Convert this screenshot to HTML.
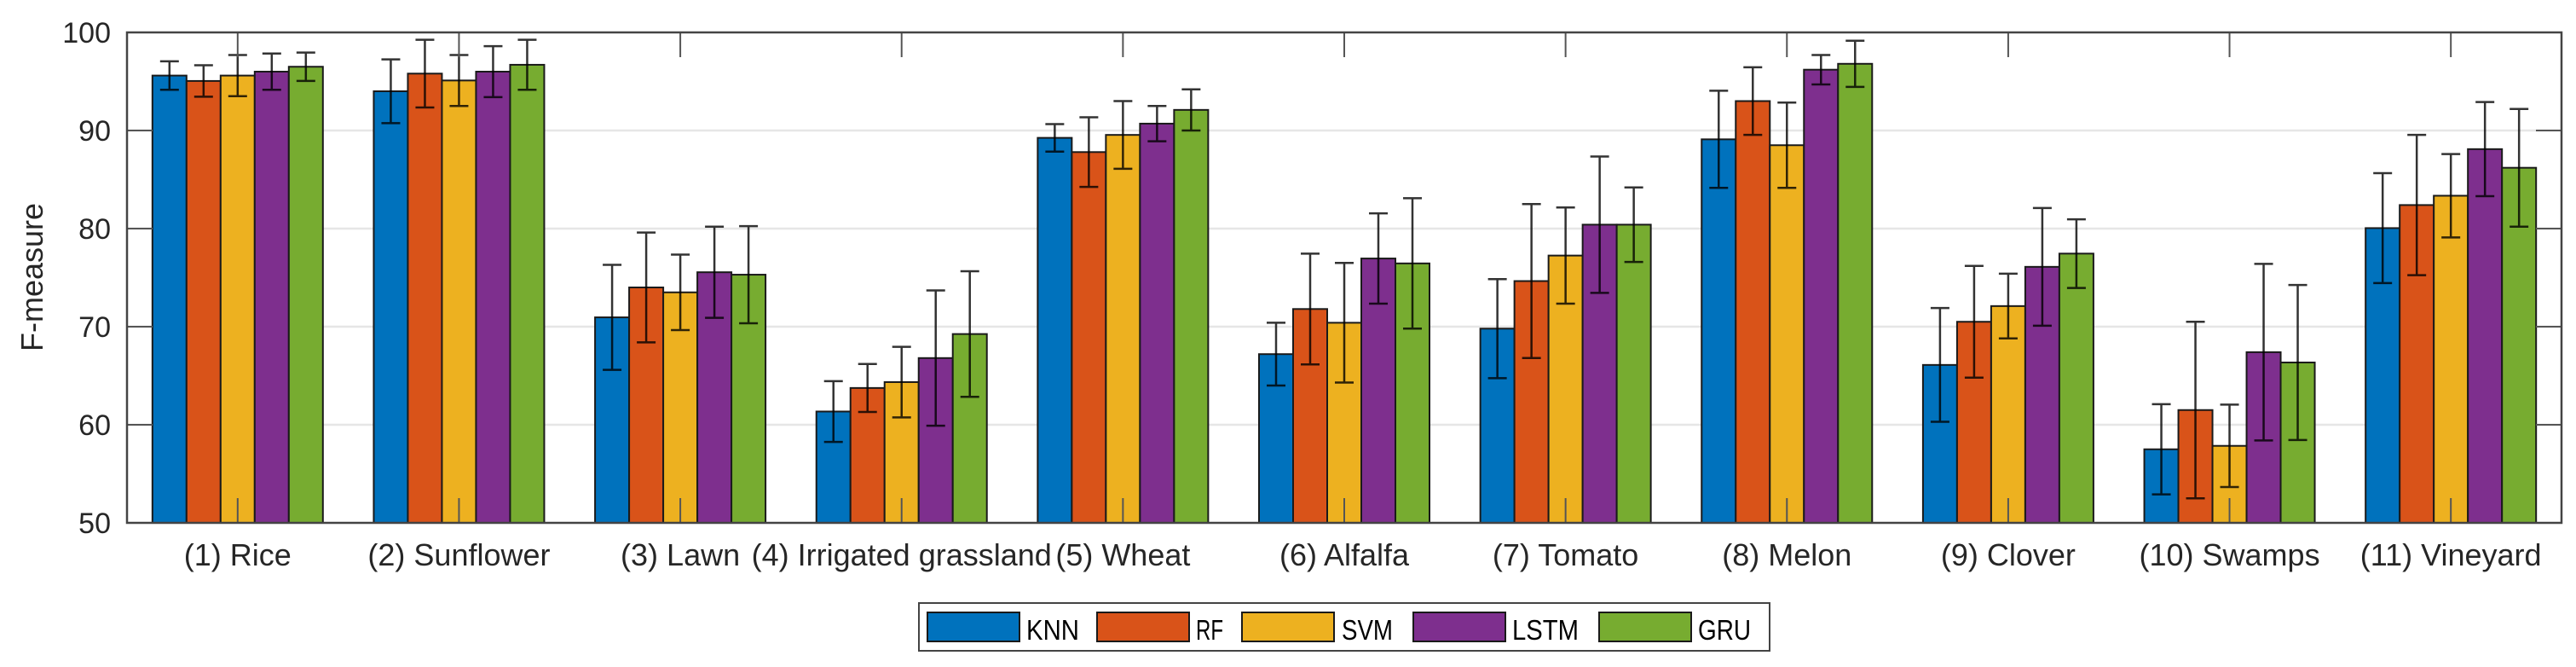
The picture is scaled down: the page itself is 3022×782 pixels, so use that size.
<!DOCTYPE html>
<html><head><meta charset="utf-8"><style>
html,body{margin:0;padding:0;background:#fff}
svg{display:block;font-family:"Liberation Sans",Arial,sans-serif}
</style></head><body>
<svg id="chart" width="3022" height="782" viewBox="0 0 3022 782" xmlns="http://www.w3.org/2000/svg">
<g id="grid"></g>
<g id="bars"></g>
<g id="errs"></g>
<g id="axes"></g>
<text x="0" y="0" transform="translate(50,325) rotate(-90)" text-anchor="middle" font-size="36" fill="#262626">F-measure</text>
<g id="legend"></g>
</svg>
<script>
const categories = ["(1) Rice","(2) Sunflower","(3) Lawn","(4) Irrigated grassland","(5) Wheat","(6) Alfalfa","(7) Tomato","(8) Melon","(9) Clover","(10) Swamps","(11) Vineyard"];
const seriesNames = ["KNN","RF","SVM","LSTM","GRU"];
const knn  = [95.6,94.0,70.95,61.35,89.25,67.2,69.8,89.1,66.1,57.5,80.05];
const rf   = [95.05,95.8,74.0,63.75,87.8,71.8,74.65,93.0,70.5,61.5,82.4];
const svm  = [95.6,95.1,73.5,64.35,89.55,70.4,77.25,88.5,72.1,57.85,83.35];
const lstm = [96.0,96.0,75.55,66.8,90.7,76.95,80.4,96.2,76.1,67.4,88.1];
const gru  = [96.5,96.7,75.3,69.25,92.1,76.45,80.4,96.8,77.45,66.35,86.2];
const knnErr  = [1.45,3.25,5.35,3.1,1.4,3.2,5.05,4.95,5.8,4.6,5.6];
const rfErr   = [1.6,3.45,5.6,2.45,3.55,5.65,7.85,3.45,5.7,9.0,7.15];
const svmErr  = [2.1,2.6,3.85,3.6,3.45,6.1,4.9,4.35,3.3,4.2,4.25];
const lstmErr = [1.85,2.6,4.65,6.9,1.8,4.6,6.95,1.5,6.0,9.0,4.8];
const gruErr  = [1.45,2.55,4.95,6.4,2.1,6.65,3.8,2.35,3.5,7.9,6.0];
const yTicks = [50,60,70,80,90,100];

const series=[knn,rf,svm,lstm,gru];
const errs=[knnErr,rfErr,svmErr,lstmErr,gruErr];
const colors=["#0072BD","#D95319","#EDB120","#7E2F8E","#77AC30"];
const L=149,R=3005,T=38,B=613,yMin=50,yMax=100;
const NS="http://www.w3.org/2000/svg";
function y(v){return B-(v-yMin)/(yMax-yMin)*(B-T);}
function xc(i){return L+(i+0.5)*(R-L)/categories.length;}
const bw=40;
function mk(tag,attrs,parent){const e=document.createElementNS(NS,tag);for(const k in attrs)e.setAttribute(k,attrs[k]);parent.appendChild(e);return e;}
const grid=document.getElementById('grid'),bars=document.getElementById('bars'),eg=document.getElementById('errs'),ax=document.getElementById('axes'),lg=document.getElementById('legend');
yTicks.forEach(t=>{
  if(t>yMin&&t<yMax){const g=mk('line',{x1:L,x2:R,y1:y(t),y2:y(t),stroke:'#e6e6e6','stroke-width':2.5},grid);
  
  }
  const tl=mk('text',{x:130,y:y(t)+12,'text-anchor':'end','font-size':34,fill:'#262626'},ax);tl.textContent=t;
  
  
  mk('line',{x1:L,x2:L+30,y1:y(t),y2:y(t),stroke:'#555','stroke-width':2},ax);
  mk('line',{x1:R-30,x2:R,y1:y(t),y2:y(t),stroke:'#555','stroke-width':2},ax);
});
categories.forEach((c,i)=>{
  const cx=xc(i);
  series.forEach((s,j)=>{
    const x0=cx-2.5*bw+j*bw;
    const r=mk('rect',{x:x0,y:y(s[i]),width:bw,height:B-y(s[i]),fill:colors[j],stroke:'#1a1a1a','stroke-width':2},bars);
    
    
    const mx=x0+bw/2,hi=y(s[i]+errs[j][i]),lo=y(s[i]-errs[j][i]);
    const e=mk('path',{d:`M${mx},${hi}V${lo}M${mx-11},${hi}H${mx+11}M${mx-11},${lo}H${mx+11}`,stroke:'#000','stroke-width':2.5,fill:'none','stroke-opacity':0.8},eg);
    
    
  });
  mk('line',{x1:cx,x2:cx,y1:B,y2:B-29,stroke:'#555','stroke-width':2},ax);
  mk('line',{x1:cx,x2:cx,y1:T,y2:T+29,stroke:'#555','stroke-width':2},ax);
  const tl=mk('text',{x:cx,y:663,'text-anchor':'middle','font-size':36,fill:'#262626'},ax);tl.textContent=c;
  
  
});
const box=mk('rect',{x:L,y:T,width:R-L,height:B-T,fill:'none',stroke:'#444','stroke-width':2.5},ax);


const lb=mk('rect',{x:1078,y:707,width:998,height:56,fill:'#fff',stroke:'#444','stroke-width':2},lg);


const sw=[1088,1287,1457,1658,1876],tx=[1204,1403,1574,1774,1992],tw=[62,32,60,78,62];
seriesNames.forEach((n,j)=>{
  const g=mk('g',{},lg);
  
  
  mk('rect',{x:sw[j],y:718,width:108,height:34,fill:colors[j],stroke:'#1a1a1a','stroke-width':2},g);
  const t=mk('text',{x:tx[j],y:750,'font-size':33,fill:'#000',textLength:tw[j],lengthAdjust:'spacingAndGlyphs'},g);t.textContent=n;
});
</script>
</body></html>
